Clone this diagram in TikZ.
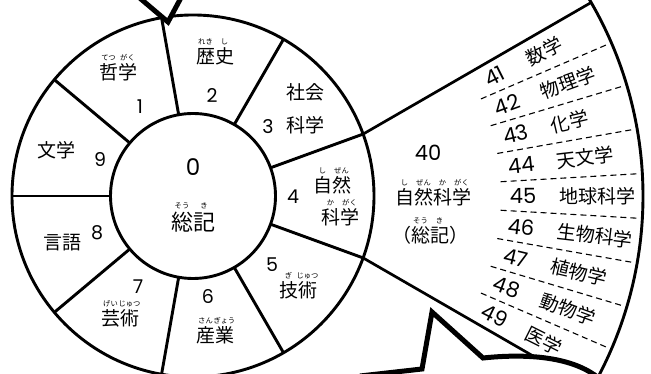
\documentclass[tikz,border=0pt]{standalone}
\usepackage{fontspec}
\setmainfont{Noto Sans CJK JP}
\newfontfamily\digitfont{Poppins}
\newcommand\rubyk[2]{\makebox[0pt][l]{\makebox[1em][c]{\raisebox{0.98em}[0pt][0pt]{\fontsize{7.3}{7.3}\selectfont #2}}}#1}
\tikzset{
  mainline/.style={line width=2.9pt},
  fanline/.style={line width=2.7pt},
  dashline/.style={line width=1.1pt, dash pattern=on 6pt off 4pt},
  bubble/.style={line width=5pt, line join=miter},
  lab/.style={inner sep=0pt, font=\fontsize{19}{19}\selectfont},
  biglab/.style={inner sep=0pt, font=\fontsize{22}{22}\selectfont},
  num/.style={inner sep=0pt, font=\digitfont\fontsize{19}{19}\selectfont},
  fnum/.style={inner sep=0pt, font=\digitfont\fontsize{21}{21}\selectfont},
}
\begin{document}
\begin{tikzpicture}[x=1pt,y=1pt]
\useasboundingbox (0,0) rectangle (651,374);
\clip (0,0) rectangle (651,374);
\coordinate (C) at (193,178);
\coordinate (A) at (256,178);
% fan
\coordinate (J1) at ([shift={(20:181)}]C);
\coordinate (J2) at ([shift={(-20:181)}]C);
\coordinate (F1) at ([shift={(30:387)}]A);
\coordinate (F2) at ([shift={(-30:387)}]A);
\coordinate (R1) at ([shift={(33:387)}]A);
\draw[fanline] (J1) -- (F1);
\draw[fanline] (J2) -- (F2);
\draw[mainline] (R1) arc[start angle=33, end angle=-33, radius=387];
\foreach \k in {1,...,8}{
  \pgfmathsetmacro\ang{30-6.6667*\k}
  \draw[dashline] ([shift={(\ang:245)}]A) -- ([shift={(\ang:382)}]A);
}
\foreach \n/\name [count=\k] in {41/数学,42/物理学,43/化学,44/天文学,45/地球科学,46/生物科学,47/植物学,48/動物学,49/医学}{
  \pgfmathsetmacro\ang{30-6.6667*(\k-0.5)}
  \node[fnum, rotate=\ang] (n\n) at ([shift={(\ang:267)}]A) {\n};
  \node[lab, rotate=\ang, anchor=west] (t\n) at ([shift={(\ang:303)}]A) {\name};
}
% main disk
\draw[mainline] (C) circle[radius=181];
\draw[mainline] (C) circle[radius=82.5];
\foreach \a in {20,60,...,340}{
  \draw[mainline] ([shift={(\a:82.5)}]C) -- ([shift={(\a:181)}]C);
}
% sector labels
\node[lab] (w2) at (215,318) {\rubyk{歴}{れき}\rubyk{史}{し}};
\node[num] (d2) at (212,278) {2};
\node[lab] (w1) at (118,302) {\rubyk{哲}{てつ}\rubyk{学}{がく}};
\node[num] (d1) at (140,267) {1};
\node[lab] (w3a) at (305,282) {社会};
\node[num] (d3) at (268,247) {3};
\node[lab] (w3b) at (305,249) {科学};
\node[lab] (w4a) at (332,189) {\rubyk{自}{し}\rubyk{然}{ぜん}};
\node[lab] (w4b) at (340,157) {\rubyk{科}{か}\rubyk{学}{がく}};
\node[num] (d4) at (293,177) {4};
\node[lab] (w5) at (298,84) {\rubyk{技}{ぎ}\rubyk{術}{じゅつ}};
\node[num] (d5) at (272,109) {5};
\node[lab] (w6) at (215,39) {\rubyk{産}{さん}\rubyk{業}{ぎょう}};
\node[num] (d6) at (208,77) {6};
\node[lab] (w7) at (120,56) {\rubyk{芸}{げい}\rubyk{術}{じゅつ}};
\node[num] (d7) at (138,87) {7};
\node[lab] (w8) at (62,131) {言語};
\node[num] (d8) at (97,141) {8};
\node[lab] (w9) at (56,224) {文学};
\node[num] (d9) at (100,214) {9};
\node[inner sep=0pt, font=\digitfont\fontsize{23}{23}\selectfont] (d0) at (193,207) {0};
\node[biglab] (w0) at (193,152) {\rubyk{総}{そう}\rubyk{記}{き}};
% fan centre
\node[fnum] (d40) at (428,221) {40};
\node[lab] (w40a) at (433,177) {\rubyk{自}{し}\rubyk{然}{ぜん}\rubyk{科}{か}\rubyk{学}{がく}};
\node[lab] (w40b) at (430,139) {（\rubyk{総}{そう}\rubyk{記}{き}）};
% speech bubble tails
\fill[white] (135,380) -- (168,352) -- (183,380) -- cycle;
\draw[bubble] (135,380) -- (168,352) -- (183,380);
\fill[white] (360,-2) -- (422,5) -- (432,62) -- (483,16) .. controls (530,21) and (580,17) .. (605,-10) -- (605,-20) -- (360,-20) -- cycle;
\draw[bubble] (360,-2) -- (422,5) -- (432,62) -- (483,16) .. controls (530,21) and (580,17) .. (605,-10);
\end{tikzpicture}
\end{document}
